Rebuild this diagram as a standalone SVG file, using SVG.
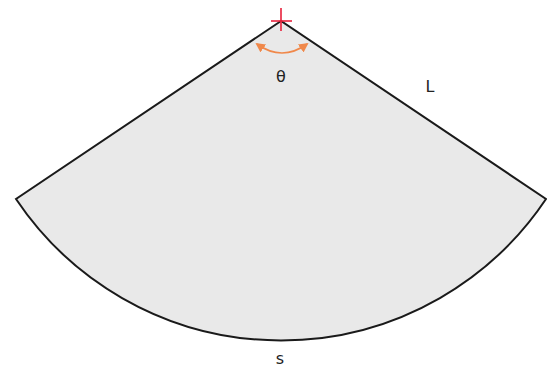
<svg xmlns="http://www.w3.org/2000/svg" width="547" height="371" viewBox="0 0 547 371">
<style>
.sector{fill:#e9e9e9;stroke:#1a1a1a;stroke-width:2;stroke-linejoin:miter}
.lbl{font-family:"DejaVu Sans","Liberation Sans",sans-serif;font-size:16px;fill:#222}
.ang{fill:none;stroke:#f0884a;stroke-width:1.6}
.cross{stroke:#e8203a;stroke-width:1.6}
</style>
<defs>
<marker id="ah" viewBox="0 0 10 10" refX="8" refY="5" markerWidth="6" markerHeight="6" orient="auto-start-reverse">
<path d="M0,0 L10,5 L0,10 z" fill="#f0884a"/>
</marker>
</defs>
<g id="sector">
<path class="sector" d="M281,21 L16,199 A319,319 0 0 0 546,199 Z"/>
</g>
<g id="connectors">
<path class="ang" d="M257,44 Q282,62 307,44" marker-start="url(#ah)" marker-end="url(#ah)"/>
</g>
<g id="apex">
<line class="cross" x1="271" y1="21" x2="292" y2="21"/>
<line class="cross" x1="281" y1="8" x2="281" y2="31"/>
</g>
<g id="labels">
<text class="lbl" x="281" y="82" text-anchor="middle">θ</text>
<text class="lbl" x="430" y="92" text-anchor="middle">L</text>
<text class="lbl" x="280" y="364" text-anchor="middle">s</text>
</g>
</svg>
